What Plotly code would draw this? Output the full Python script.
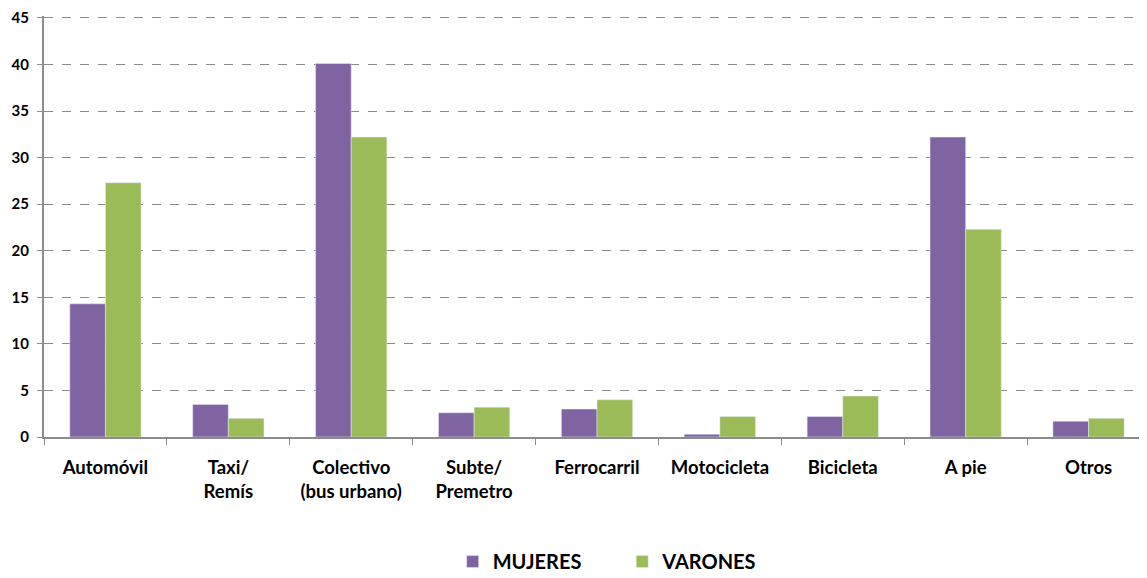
import plotly.graph_objects as go

categories = ["Automóvil", "Taxi/<br>Remís", "Colectivo<br>(bus urbano)", "Subte/<br>Premetro",
              "Ferrocarril", "Motocicleta", "Bicicleta", "A pie", "Otros"]
mujeres = [14.3, 3.5, 40.1, 2.6, 3.0, 0.3, 2.2, 32.2, 1.7]
varones = [27.3, 2.0, 32.2, 3.2, 4.0, 2.2, 4.4, 22.3, 2.0]
y_ticks = [0, 5, 10, 15, 20, 25, 30, 35, 40, 45]
y_ticklabels = [f"<b>{v}</b>" for v in y_ticks]

FONT = "Lato, 'Open Sans', sans-serif"
NB = "\u00a0"

fig = go.Figure()
fig.add_trace(go.Bar(name="<b>MUJERES</b>" + NB * 7, x=categories, y=mujeres, marker_color="#8064A2"))
fig.add_trace(go.Bar(name="<b>VARONES</b>", x=categories, y=varones, marker_color="#9BBB59"))

fig.update_layout(
    width=1147, height=578,
    margin=dict(l=36, r=5, t=8, b=146),
    paper_bgcolor="white", plot_bgcolor="white",
    barmode="group", bargap=0.42, bargroupgap=0,
    font=dict(family=FONT, size=17, color="black"),
    legend=dict(orientation="h", x=0.3695, xanchor="left", y=-0.296, yanchor="middle",
                font=dict(size=20), itemwidth=30, traceorder="normal"),
    showlegend=True,
)
fig.update_xaxes(
    tickmode="array", tickvals=categories, ticktext=[f"<b>{c}</b>" for c in categories],
    tickson="boundaries", ticks="outside", ticklen=6, tickcolor="#8c8c8c",
    showline=True, linecolor="#8c8c8c", linewidth=2,
    tickfont=dict(size=18.5), ticklabelstandoff=13, automargin=False,
)
fig.update_yaxes(
    range=[0, 45.2], tickmode="array", tickvals=y_ticks, ticktext=y_ticklabels,
    showgrid=True, gridcolor="#8a8a8a", griddash="dash", gridwidth=1,
    showline=True, linecolor="#8c8c8c", linewidth=2,
    ticks="outside", ticklen=5, tickcolor="#8c8c8c",
    tickfont=dict(size=15), zeroline=False, automargin=False, ticklabelstandoff=5,
    ticklabeloverflow="allow",
)

fig.write_html("out.html")
